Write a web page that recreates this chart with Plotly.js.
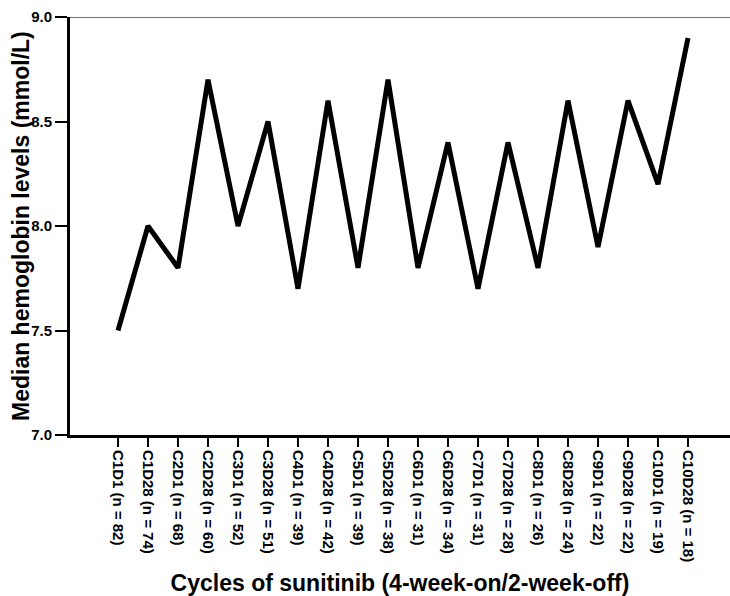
<!DOCTYPE html>
<html>
<head>
<meta charset="utf-8">
<script src="https://cdn.plot.ly/plotly-3.0.1.min.js"></script>
<style>html,body{margin:0;padding:0;background:#fff;}#chart{width:730px;height:596px;}</style>
</head>
<body>
<div id="chart"></div>
<script>
const categories = ["C1D1 (n = 82)","C1D28 (n = 74)","C2D1 (n = 68)","C2D28 (n = 60)","C3D1 (n = 52)","C3D28 (n = 51)","C4D1 (n = 39)","C4D28 (n = 42)","C5D1 (n = 39)","C5D28 (n = 38)","C6D1 (n = 31)","C6D28 (n = 34)","C7D1 (n = 31)","C7D28 (n = 28)","C8D1 (n = 26)","C8D28 (n = 24)","C9D1 (n = 22)","C9D28 (n = 22)","C10D1 (n = 19)","C10D28 (n = 18)"];
const hemoglobin = [7.5, 8.0, 7.8, 8.7, 8.0, 8.5, 7.7, 8.6, 7.8, 8.7, 7.8, 8.4, 7.7, 8.4, 7.8, 8.6, 7.9, 8.6, 8.2, 8.9];
const yTicks = [7.0, 7.5, 8.0, 8.5, 9.0];
const yTickText = ["7.0", "7.5", "8.0", "8.5", "9.0"];
const xTitle = "Cycles of sunitinib (4-week-on/2-week-off)";
const yTitle = "Median hemoglobin levels (mmol/L)";

const font = "Liberation Sans, Arial, sans-serif";
const trace = {
  x: categories, y: hemoglobin, type: "scatter", mode: "lines",
  line: {color: "#000", width: 5}, hoverinfo: "skip"
};
const layout = {
  width: 730, height: 596,
  margin: {l: 70, r: 0, t: 17, b: 161},
  paper_bgcolor: "#fff", plot_bgcolor: "#fff",
  showlegend: false,
  xaxis: {
    type: "category", range: [-1.6, 20.4],
    showgrid: false, zeroline: false,
    showline: true, linecolor: "#000", linewidth: 3,
    ticks: "outside", ticklen: 9, tickwidth: 2, tickcolor: "#000",
    tickangle: 90,
    tickfont: {family: font, size: 15, color: "#000", weight: "bold"},
    title: {text: xTitle, font: {family: font, size: 23, color: "#000", weight: "bold"}, standoff: 14},
    automargin: false
  },
  yaxis: {
    range: [7.0, 9.0], tickvals: yTicks, ticktext: yTickText,
    showgrid: false, zeroline: false,
    showline: true, linecolor: "#000", linewidth: 3,
    ticks: "outside", ticklen: 12, tickwidth: 2, tickcolor: "#000",
    tickfont: {family: font, size: 15, color: "#000", weight: "bold"},
    automargin: false
  },
  annotations: [{
    text: yTitle, xref: "paper", yref: "paper",
    x: -49/660, y: 0.5, xanchor: "center", yanchor: "middle",
    textangle: -90, showarrow: false,
    font: {family: font, size: 23, color: "#000", weight: "bold"}
  }],
  shapes: [{type: "line", xref: "paper", yref: "y", x0: 0, x1: 1, y0: 9.0, y1: 9.0, line: {color: "#444", width: 1.5}}]
};
Plotly.newPlot("chart", [trace], layout, {displayModeBar: false, staticPlot: true});
</script>
</body>
</html>
